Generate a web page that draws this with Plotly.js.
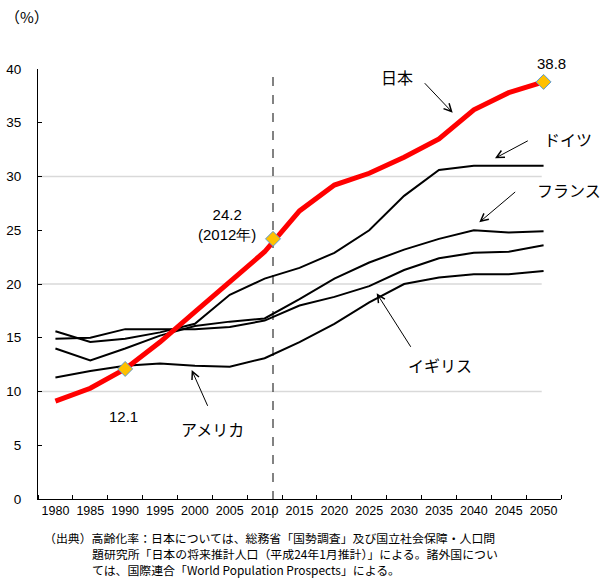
<!DOCTYPE html>
<html>
<head>
<meta charset="utf-8">
<script src="https://cdn.plot.ly/plotly-3.0.1.min.js"></script>
<style>
html,body{margin:0;padding:0;background:#fff;}
#chart{width:602px;height:584px;}
</style>
</head>
<body>
<div id="chart"></div>
<script>
// ---- data ----
const years = [1980,1985,1990,1995,2000,2005,2010,2015,2020,2025,2030,2035,2040,2045,2050];
const yearLabels = years.map(String);
const japan   = [9.1, 10.3, 12.1, 14.6, 17.4, 20.2, 23.0, 26.8, 29.2, 30.3, 31.8, 33.5, 36.2, 37.8, 38.8];
const germany = [15.6, 14.6, 14.9, 15.5, 16.3, 19.0, 20.5, 21.5, 22.9, 25.0, 28.2, 30.6, 31.0, 31.0, 31.0];
const france  = [14.0, 12.9, 14.0, 15.2, 16.1, 16.5, 16.8, 18.6, 20.5, 22.0, 23.2, 24.2, 25.0, 24.8, 24.9];
const uk      = [14.9, 15.0, 15.8, 15.8, 15.8, 16.0, 16.6, 18.0, 18.8, 19.8, 21.3, 22.4, 22.9, 23.0, 23.6];
const usa     = [11.3, 11.9, 12.4, 12.6, 12.4, 12.3, 13.1, 14.6, 16.3, 18.3, 20.0, 20.6, 20.9, 20.9, 21.2];
const highlightX = [1990, 2011.2, 2050];
const highlightY = [12.1, 24.2, 38.8];
const highlightText = ['12.1', '24.2<br>(2012年)', '38.8'];
const countryNames = ['日本', 'ドイツ', 'フランス', 'イギリス', 'アメリカ'];
const sourceLines = [
  '（出典）高齢化率：日本については、総務省「国勢調査」及び国立社会保障・人口問',
  '題研究所「日本の将来推計人口（平成24年1月推計）」による。諸外国につい',
  'ては、国際連合「World Population Prospects」による。'
];

// ---- layout geometry ----
const L = 38, T = 69, W = 523, H = 430;
const px = v => (v - L) / W;
const py = v => (T + H - v) / H;
const boundaries = years.map(y => y - 2.5).concat([2052.5]);

const jp = 'Noto Sans CJK JP, sans-serif';
const num = 'Liberation Sans, Arial, sans-serif';
const narrow = 'Liberation Sans Narrow, Arial Narrow, Liberation Sans, sans-serif';

function blackLine(y, name) {
  return {x: years, y: y, type: 'scatter', mode: 'lines', name: name,
          line: {color: '#000', width: 2}, hoverinfo: 'skip'};
}

const traces = [
  blackLine(germany, countryNames[1]),
  blackLine(france, countryNames[2]),
  blackLine(uk, countryNames[3]),
  blackLine(usa, countryNames[4]),
  {x: years, y: japan, type: 'scatter', mode: 'lines', name: countryNames[0],
   line: {color: '#FF0000', width: 5}},
  {x: highlightX, y: highlightY, type: 'scatter', mode: 'markers',
   marker: {symbol: 'diamond', size: 11.5, color: '#FFC000', line: {color: '#5B9BD5', width: 1}}}
];

function label(text, x, y, size, family) {
  return {text: text, x: px(x), y: py(y), xref: 'paper', yref: 'paper', showarrow: false,
          xanchor: 'center', yanchor: 'middle', font: {size: size, family: family, color: '#000'}};
}
function arrow(hx, hy, tx, ty) {
  return {text: '', x: px(hx), y: py(hy), xref: 'paper', yref: 'paper', showarrow: true,
          ax: tx - hx, ay: ty - hy, arrowhead: 5, arrowsize: 1.5, arrowwidth: 1,
          arrowcolor: '#000', standoff: 0, startstandoff: 0};
}

const annotations = [
  label('（%）', 27, 17, 15, jp),
  label(countryNames[0], 397, 76.5, 16, jp),
  arrow(452.7, 112.7, 423.3, 81.7),
  label(countryNames[1], 568, 139, 16, jp),
  arrow(495, 158.3, 529.3, 140),
  label(countryNames[2], 569, 190, 16, jp),
  arrow(479.3, 222.3, 516.7, 190.7),
  label(countryNames[3], 440, 365, 16, jp),
  arrow(376.7, 293.3, 411.7, 348.3),
  label(countryNames[4], 212, 429, 16, jp),
  arrow(191.7, 370, 208.3, 407.3),
  label(highlightText[0], 123.3, 416, 15, num),
  label(highlightText[1], 226.7, 224.5, 15, num),
  label(highlightText[2], 551.7, 64, 15, num),
];
sourceLines.forEach((s, i) => {
  annotations.push({text: s, x: px(i === 0 ? 42 : 90), y: py([537, 553, 569][i]),
    xref: 'paper', yref: 'paper', showarrow: false, xanchor: 'left', yanchor: 'middle',
    font: {size: 11.9, family: jp, color: '#000'}});
});

const shapes = [10, 20, 30].map(v => ({
  type: 'line', xref: 'paper', yref: 'y', x0: 0, x1: px(541.7), y0: v, y1: v,
  line: {color: '#D9D9D9', width: 1.5}, layer: 'below'
}));
shapes.push({type: 'line', xref: 'x', yref: 'paper', x0: highlightX[1], x1: highlightX[1],
  y0: -19 / H, y1: 1.0, line: {color: '#404040', width: 1.3, dash: 'dash'}, layer: 'below'});

const layout = {
  width: 602, height: 584,
  margin: {l: L, r: 602 - L - W, t: T, b: 584 - T - H, pad: 0},
  paper_bgcolor: '#fff', plot_bgcolor: '#fff',
  showlegend: false,
  xaxis: {range: [1977.5, 2052.5], tickvals: years, ticktext: yearLabels, ticks: '',
          showline: true, linecolor: '#000', linewidth: 1, showgrid: false, zeroline: false,
          tickfont: {size: 12.5, family: narrow, color: '#000'},
          minor: {tickvals: boundaries, ticks: 'inside', ticklen: 4, tickwidth: 1, tickcolor: '#000', showgrid: false}},
  yaxis: {range: [0, 40], dtick: 5, tick0: 0, ticks: 'inside', ticklen: 4, tickwidth: 1, tickcolor: '#000',
          showline: true, linecolor: '#000', linewidth: 1, showgrid: false, zeroline: false,
          ticklabelstandoff: 13,
          tickfont: {size: 13.5, family: narrow, color: '#000'}},
  annotations: annotations,
  shapes: shapes
};

Plotly.newPlot('chart', traces, layout, {displayModeBar: false, staticPlot: true});
</script>
</body>
</html>
